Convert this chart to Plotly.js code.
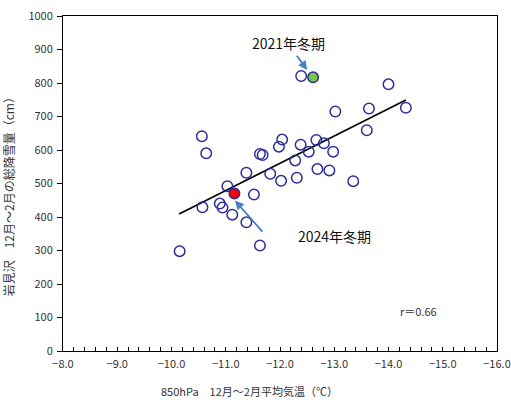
<!DOCTYPE html>
<html><head><meta charset="utf-8">
<script src="https://cdn.plot.ly/plotly-3.0.1.min.js"></script>
<style>html,body{margin:0;padding:0;background:#fff}#chart{width:511px;height:400px}</style>
</head><body><div id="chart"></div>
<script>
// 850hPa Dec–Feb mean temperature (°C) and Iwamizawa total snowfall (cm)
const tempX = [-10.15,-10.56,-10.64,-11.63,-11.68,-12.04,-11.98,-12.38,-12.53,-12.28,-11.38,-11.82,-12.02,-12.31,-11.03,-11.52,-10.57,-10.89,-10.94,-11.12,-11.38,-11.63,-12.39,-14.00,-13.02,-13.64,-14.32,-13.60,-12.67,-12.81,-12.98,-12.69,-12.91,-13.35];
const snowY = [298,641,590,588,585,631,610,616,595,569,532,529,508,517,492,467,429,440,428,407,384,315,821,796,715,724,726,659,630,620,595,543,539,507];
const year2021X = [-12.61], year2021Y = [817];
const year2024X = [-11.16], year2024Y = [470];
const trendX = [-10.14, -14.32];
const trendY = [409, 749];
const xTicks = [-8,-9,-10,-11,-12,-13,-14,-15,-16];
const yTicks = [0,100,200,300,400,500,600,700,800,900,1000];

const font = "'Noto Sans CJK JP', 'Noto Sans', sans-serif";
const navy = '#2e2e9a';
const arrowBlue = '#4a7fc1';

const traces = [
  {x: trendX, y: trendY, mode: 'lines', line: {color: '#000', width: 1.7}, hoverinfo: 'skip'},
  {x: tempX, y: snowY, mode: 'markers', marker: {size: 10.5, color: 'rgba(0,0,0,0)', line: {color: navy, width: 1.5}}},
  {x: year2021X, y: year2021Y, mode: 'markers', marker: {size: 10.5, color: '#7cc444', line: {color: navy, width: 1.5}}},
  {x: year2024X, y: year2024Y, mode: 'markers', marker: {size: 10.5, color: '#ff0000', line: {color: navy, width: 1.5}}}
];

const layout = {
  width: 511, height: 400,
  margin: {l: 63, r: 14, t: 16, b: 49},
  paper_bgcolor: '#fff', plot_bgcolor: '#fff',
  showlegend: false,
  font: {family: font, size: 11, color: '#222'},
  xaxis: {
    range: [-8, -16], tickvals: xTicks, tickformat: '.1f',
    ticks: 'inside', ticklen: 4, tickcolor: '#000',
    minor: {dtick: 0.2, ticks: 'inside', ticklen: 4, tickcolor: '#000'},
    showline: true, linecolor: '#000', linewidth: 1, mirror: true,
    showgrid: false, zeroline: false, ticklabelstandoff: 3,
    tickfont: {family: font, size: 11, color: '#333'}
  },
  yaxis: {
    range: [0, 1000], tickvals: yTicks,
    ticks: 'outside', ticklen: 5, tickcolor: '#000',
    showline: true, linecolor: '#000', linewidth: 1, mirror: true,
    showgrid: false, zeroline: false, ticklabelstandoff: 2,
    tickfont: {family: font, size: 11, color: '#333'}
  },
  annotations: [
    {xref: 'paper', yref: 'paper', x: 0.43, y: -0.12, xanchor: 'center', yanchor: 'middle',
     text: '850hPa　12月～2月平均気温（℃）', showarrow: false, font: {family: font, size: 11, color: '#333'}},
    {xref: 'paper', yref: 'paper', x: -0.125, y: 0.47, xanchor: 'center', yanchor: 'middle', textangle: -90,
     text: '岩見沢　12月～2月の総降雪量（cm）', showarrow: false, font: {family: font, size: 12, color: '#333'}},
    {x: -12.15, y: 920, text: '2021年冬期', showarrow: false, font: {family: font, size: 14, color: '#111'}},
    {x: -12.50, y: 839, ax: -12.29, ay: 886, axref: 'x', ayref: 'y', text: '', showarrow: true,
     arrowhead: 2, arrowsize: 1, arrowwidth: 1.8, arrowcolor: arrowBlue},
    {x: -13.0, y: 343, text: '2024年冬期', showarrow: false, font: {family: font, size: 14, color: '#111'}},
    {x: -11.17, y: 449, ax: -11.70, ay: 352, axref: 'x', ayref: 'y', text: '', showarrow: true,
     arrowhead: 2, arrowsize: 1, arrowwidth: 1.8, arrowcolor: arrowBlue},
    {x: -14.56, y: 120, text: 'r＝0.66', showarrow: false, font: {family: font, size: 11, color: '#333'}}
  ]
};

Plotly.newPlot('chart', traces, layout, {staticPlot: true, displayModeBar: false});
</script></body></html>
